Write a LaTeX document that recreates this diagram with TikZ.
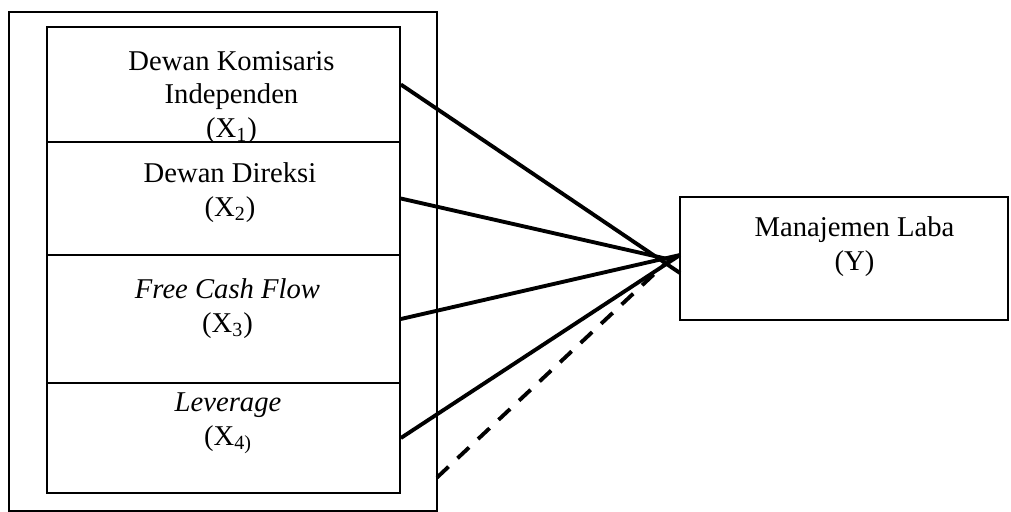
\documentclass[tikz,border=0pt]{standalone}
\usepackage{fontspec}
\setmainfont{Liberation Serif}
\usepackage{tikz}
\usetikzlibrary{positioning}
\tikzstyle{frame} = [draw, rectangle, line width=1.1pt, minimum width=8.56cm, minimum height=9.98cm, inner sep=0pt]
\tikzstyle{varbox} = [draw, rectangle, line width=1pt, minimum width=7.06cm, inner sep=0pt]
\tikzstyle{depbox} = [draw, rectangle, line width=1pt, minimum width=6.56cm, minimum height=2.46cm, inner sep=0pt]
\tikzstyle{txt} = [align=center, inner sep=0pt, anchor=base, font=\fontsize{16.3}{19}\selectfont]
\tikzstyle{link} = [line width=2.2pt]
\tikzstyle{dlink} = [line width=2.2pt, dash pattern=on 9pt off 7pt]

\begin{document}
\begin{tikzpicture}
    \useasboundingbox (0,0) rectangle (20.22,-10.24);
    \node [frame] (outer) at (4.46,-5.23) {};
    \node [varbox, minimum height=2.30cm] (x1) at (4.47,-1.69) {};
    \node [varbox, minimum height=2.26cm] (x2) at (4.47,-3.97) {};
    \node [varbox, minimum height=2.56cm] (x3) at (4.47,-6.38) {};
    \node [varbox, minimum height=2.20cm] (x4) at (4.47,-8.76) {};
    \node [depbox] (y) at (16.88,-5.17) {};
    \node [txt] (t1) at (4.63,-2.74) {Dewan Komisaris\\Independen\\(X\textsubscript{1})};
    \node [txt] (t2) at (4.60,-4.32) {Dewan Direksi\\(X\textsubscript{2})};
    \node [txt] (t3) at (4.55,-6.64) {\textit{Free Cash Flow}\\(X\textsubscript{3})};
    \node [txt] (t4) at (4.56,-8.90) {\textit{Leverage}\\(X\textsubscript{4)}};
    \node [txt] (ty) at (17.09,-5.40) {Manajemen Laba\\(Y)};
    \coordinate (e1) at (13.60,-5.46);
    \coordinate (e2) at (13.44,-5.20);
    \coordinate (e3) at (13.60,-5.10);
    \coordinate (ds) at (8.74,-9.55);
    \coordinate (de) at (13.34,-5.24);
    \draw [link] (x1.east) -- (e1);
    \draw [link] (x2.east) -- (e2);
    \draw [link] (x3.east) -- (e3);
    \draw [link] (x4.east) -- (e3);
    \draw [dlink] (ds) -- (de);
\end{tikzpicture}
\end{document}
